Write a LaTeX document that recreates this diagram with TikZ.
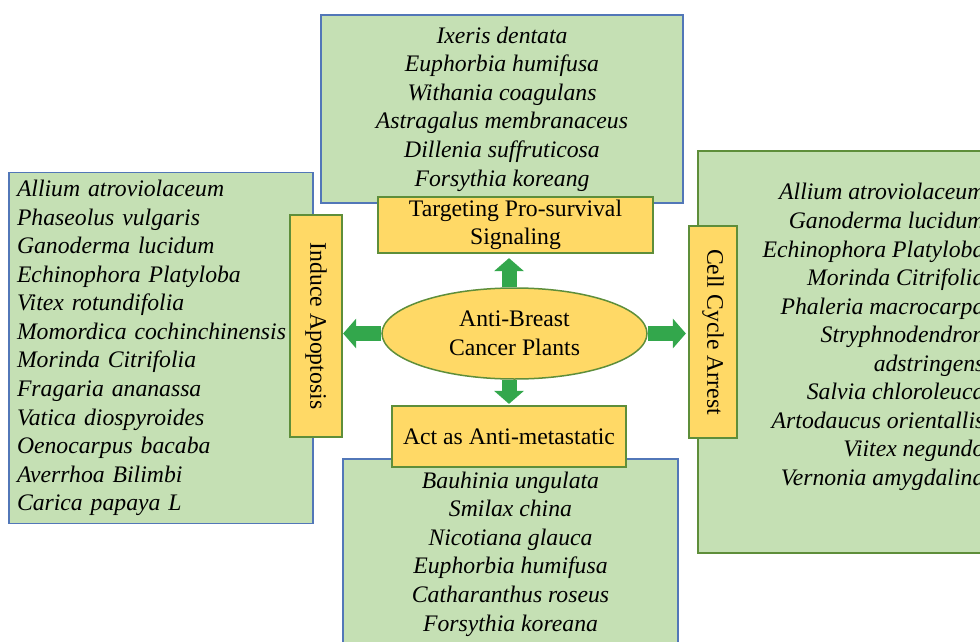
\documentclass[tikz,border=0pt]{standalone}
\usepackage{fontspec}
\setmainfont{Liberation Serif}
\usetikzlibrary{shapes.geometric,arrows.meta}

\definecolor{listgreen}{HTML}{C5E0B4}
\definecolor{listblue}{HTML}{5277B8}
\definecolor{labelyellow}{HTML}{FFD966}
\definecolor{labelrim}{HTML}{5E8E3A}
\definecolor{arrowgreen}{HTML}{33A74C}

\tikzset{
  plantfont/.style={font=\fontsize{23.7}{28.55}\selectfont\itshape},
  listbox/.style={draw=listblue, line width=1.1pt, fill=listgreen, inner sep=0pt, plantfont},
  labelbox/.style={draw=labelrim, line width=2.2pt, fill=labelyellow, align=center, inner sep=0pt, font=\fontsize{23.7}{28.55}\selectfont},
  pushto/.style={draw=arrowgreen, line width=15pt, -{Triangle[width=29pt,length=13pt]}},
}

\begin{document}
\begin{tikzpicture}[x=1pt,y=-1pt]
        \useasboundingbox (0,0) rectangle (980,642);
        \clip (0,0) rectangle (980,642);

        \node[draw=labelrim, line width=1.5pt, fill=labelyellow, ellipse, minimum width=265pt, minimum height=91pt, inner sep=0pt, align=center, font=\fontsize{23.7}{28.55}\selectfont] (plants) at (514.5,333.5) {Anti-Breast\\Cancer Plants};

        \node[listbox, align=center, minimum width=362pt, minimum height=188pt] (pst_list) at ([xshift=-12.5pt, yshift=224.5pt]plants.center) {Ixeris dentata\\Euphorbia humifusa\\Withania coagulans\\Astragalus membranaceus\\Dillenia suffruticosa\\Forsythia koreang};
        \node[listbox, align=center, minimum width=335pt, minimum height=190pt] (met_list) at ([xshift=-4pt, yshift=-220.5pt]plants.center) {Bauhinia ungulata\\Smilax china\\Nicotiana glauca\\Euphorbia humifusa\\Catharanthus roseus\\Forsythia koreana};
        \node[listbox, align=left, text width=288pt, inner sep=8pt, minimum height=350pt] (apo_list) at ([xshift=-353.5pt, yshift=-14.5pt]plants.center) {Allium atroviolaceum\\Phaseolus vulgaris\\Ganoderma lucidum\\Echinophora Platyloba\\Vitex rotundifolia\\Momordica cochinchinensis\\Morinda Citrifolia\\Fragaria ananassa\\Vatica diospyroides\\Oenocarpus bacaba\\Averrhoa Bilimbi\\Carica papaya L};
        \node[listbox, draw=labelrim, minimum width=312pt, minimum height=402pt] (cca_list) at ([xshift=339.5pt, yshift=-18.5pt]plants.center) {};
        \node[plantfont, align=right, inner sep=0pt, anchor=east] (cca_plants) at ([xshift=-26pt, yshift=15pt]cca_list.east) {Allium atroviolaceum\\Ganoderma lucidum\\Echinophora Platyloba\\Morinda Citrifolia\\Phaleria macrocarpa\\Stryphnodendron\\adstringens\\Salvia chloroleuca\\Artodaucus orientallis\\Viitex negundo\\Vernonia amygdalina};

        \node[labelbox, minimum width=275pt, minimum height=56pt] (tgt) at ([xshift=1pt, yshift=108.5pt]plants.center) {Targeting Pro-survival\\Signaling};
        \node[labelbox, minimum width=234pt, minimum height=61pt] (act) at ([xshift=-5.5pt, yshift=-103pt]plants.center) {Act as Anti-metastatic};
        \node[labelbox, minimum width=52pt, minimum height=222pt] (ind) at ([xshift=-198.5pt, yshift=7.5pt]plants.center) {\rotatebox{-90}{Induce Apoptosis}};
        \node[labelbox, minimum width=48pt, minimum height=212pt] (cca) at ([xshift=198.5pt, yshift=1.5pt]plants.center) {\rotatebox{-90}{Cell Cycle Arrest}};

        \draw[pushto, shorten >=4pt] (act.north |- plants.north) -- (act.north |- tgt.south);
        \draw[pushto, shorten >=1pt] (act.north |- plants.south) -- (act.north);
        \draw[pushto] (plants.west) -- (plants.west -| ind.east);
        \draw[pushto, shorten >=2pt] (plants.east) -- (plants.east -| cca.west);

\end{tikzpicture}
\end{document}
